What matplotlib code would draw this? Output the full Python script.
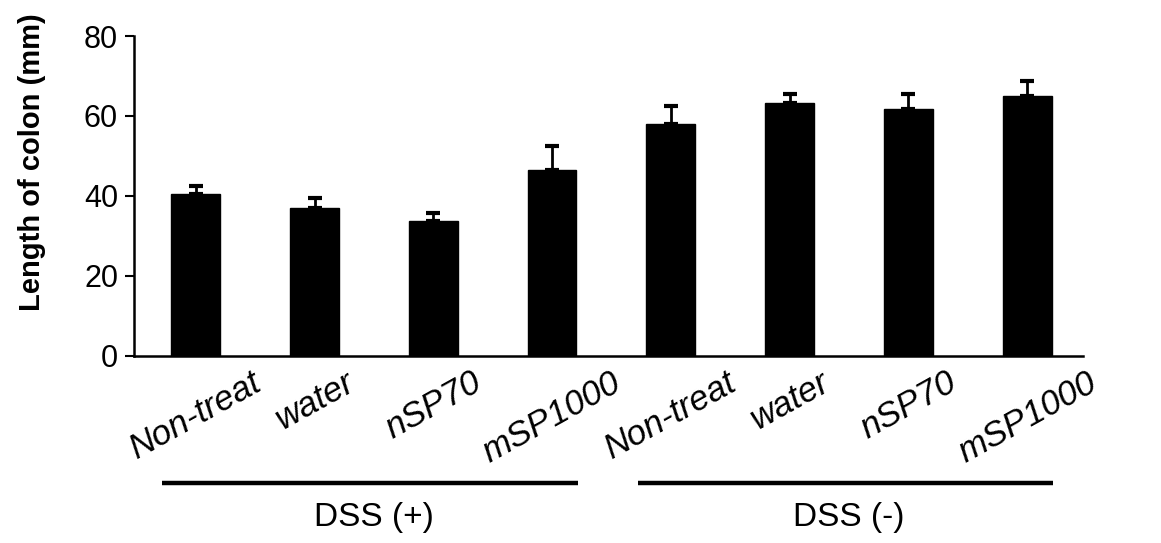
import numpy as np
import matplotlib
matplotlib.use("Agg")
import matplotlib.pyplot as plt

plt.rcParams['font.family'] = ['Liberation Sans', 'DejaVu Sans']

# data
treatments = ["Non-treat", "water", "nSP70", "mSP1000",
              "Non-treat", "water", "nSP70", "mSP1000"]
colon_length = [40.5, 36.9, 33.8, 46.4, 58.1, 63.2, 61.7, 65.0]
colon_err = [2.1, 2.5, 2.0, 6.1, 4.3, 2.3, 3.8, 3.8]
groups = ["DSS (+)", "DSS (-)"]
group_size = 4

fig = plt.figure(figsize=(11.61, 5.43), dpi=100)
ax = fig.add_axes([0.1154, 0.3444, 0.8174, 0.5893])

x = np.arange(len(treatments))
ax.bar(x, colon_length, width=0.41, color="black", edgecolor="black")
ax.errorbar(x, colon_length, yerr=[np.zeros(len(x)), colon_err], fmt="none",
            ecolor="black", elinewidth=2, capsize=5, capthick=3)

ax.set_ylim(0, 80)
ax.set_xlim(-0.52, 7.47)
ax.set_yticks([0, 20, 40, 60, 80])
ax.tick_params(axis="y", labelsize=22, length=6.5, width=1.5, pad=5)
ax.set_xticks(x)
ax.set_xticklabels(treatments, rotation=29, ha="center", fontstyle="italic",
                   fontsize=25)
ax.tick_params(axis="x", length=0, pad=7)

for s in ["top", "right"]:
    ax.spines[s].set_visible(False)
ax.spines["left"].set_linewidth(1.8)
ax.spines["bottom"].set_linewidth(1.8)

fig.text(32 / 1161, 1 - 162 / 543, "Length of colon (mm)", rotation=90,
         ha="center", va="center", fontsize=21, fontweight="bold")

# group lines and names under the tick labels
trans = ax.get_xaxis_transform()
for i, name in enumerate(groups):
    lo = i * group_size
    hi = lo + group_size - 1
    ax.plot([lo - 0.28, hi + 0.22], [-0.397, -0.397], color="black", lw=3.2,
            transform=trans, clip_on=False, solid_capstyle="butt")
    ax.text((lo + hi) / 2, -0.506, name, transform=trans, ha="center",
            va="center", fontsize=24)

fig.savefig("out.png", dpi=100)
